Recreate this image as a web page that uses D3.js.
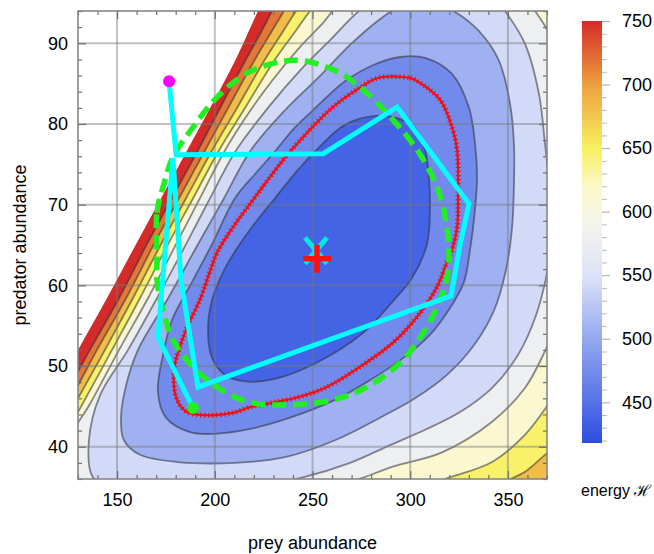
<!DOCTYPE html>
<html>
<head>
<meta charset="utf-8">
<script src="https://cdn.jsdelivr.net/npm/d3@7"></script>
<style>
  body { margin: 0; background: #fff; }
  text { font-family: "Liberation Sans", Arial, sans-serif; }
</style>
</head>
<body>
<div id="chart"></div>
<script>
// contour levels of the energy H
const levels = [455, 490, 525, 560, 595, 630, 665, 700, 735];

// contour lines, [prey, predator] (parts run outside the frame)
const contour455 = [[230.8,70.8],[241.1,73.9],[251.3,76.6],[266.6,79.9],[282.0,81.0],[293.8,80.7],[302.5,79.5],[307.6,76.8],[309.6,73.3],[310.1,69.2],[308.6,65.1],[300.9,60.9],[290.7,57.9],[275.3,54.0],[252.8,50.5],[230.8,48.4],[215.5,48.1],[205.2,48.9],[198.6,51.0],[196.5,54.5],[198.6,58.2],[205.2,62.1],[213.9,65.5],[222.1,68.2]];
const contour490 = [[210.3,70.8],[220.6,73.8],[230.8,76.6],[240.0,79.3],[249.8,81.6],[266.6,85.3],[282.0,87.4],[294.8,88.3],[307.6,88.2],[321.4,86.2],[330.1,82.0],[333.2,77.5],[334.2,73.3],[332.7,68.3],[330.6,64.4],[327.5,60.4],[320.4,57.2],[309.1,53.6],[294.8,50.7],[278.4,48.1],[261.5,45.8],[238.5,43.6],[218.0,42.2],[200.1,41.6],[187.3,41.8],[175.0,43.6],[170.9,46.8],[173.5,51.4],[178.1,55.7],[188.3,60.4],[198.6,65.1]];
const contour525 = [[218.0,76.6],[235.9,81.7],[252.8,85.7],[269.2,89.8],[283.5,92.8],[295.8,94.7],[308.6,95.2],[321.4,94.1],[335.2,91.5],[345.5,87.8],[351.1,82.5],[353.1,77.5],[353.1,72.6],[352.1,67.1],[349.0,61.9],[342.9,56.9],[332.7,52.6],[318.8,48.9],[302.5,46.0],[284.6,43.6],[261.5,40.8],[235.9,38.7],[210.3,38.0],[181.2,38.1],[161.7,39.0],[153.5,40.8],[152.0,43.6],[154.6,47.6],[160.7,52.0],[176.1,58.4],[191.4,65.1],[204.7,70.8]];
const contour560 = [[210.3,76.5],[227.2,82.0],[244.6,86.9],[259.0,90.4],[274.3,94.1],[292.2,96.9],[315.3,98.1],[338.3,96.9],[348.5,94.0],[358.8,89.9],[365.9,83.7],[369.0,77.5],[371.6,71.8],[373.1,66.9],[370.5,62.1],[364.4,56.3],[355.2,51.4],[341.9,47.3],[325.5,44.3],[307.6,42.1],[289.7,40.2],[269.2,38.0],[243.6,36.1],[212.9,34.8],[177.1,34.1],[146.4,34.6],[137.2,36.4],[135.6,40.8],[141.3,46.4],[155.6,52.0],[170.4,58.4],[185.3,65.1],[197.6,70.8]];
const contour595 = [[204.7,76.5],[215.5,80.7],[225.7,84.2],[234.4,86.9],[244.6,89.8],[254.9,92.4],[265.1,95.4],[284.6,99.1],[325.5,100.9],[356.2,96.6],[363.9,94.0],[370.5,91.5],[376.7,87.9],[381.8,80.5],[383.8,70.6],[381.8,60.7],[376.7,55.7],[370.5,52.6],[358.8,47.3],[341.9,43.1],[316.3,39.3],[290.7,37.5],[275.3,36.1],[243.6,33.4],[182.2,31.5],[136.1,32.8],[120.8,37.1],[124.9,40.8],[136.1,45.3],[151.0,52.0],[165.8,58.4],[180.2,65.1],[192.4,70.8]];
const contour630 = [[201.6,76.5],[216.0,82.2],[230.3,87.8],[239.5,90.9],[248.7,94.0],[259.0,97.2],[320.4,102.8],[386.9,100.3],[402.3,83.0],[397.1,68.1],[386.9,54.5],[376.7,47.6],[370.5,45.2],[358.8,41.5],[341.9,38.1],[317.8,36.0],[294.8,34.0],[243.6,29.7],[166.8,29.1],[115.7,33.4],[118.2,39.3],[130.0,44.3],[147.4,52.0],[161.7,58.4],[176.1,65.1],[188.9,70.8]];
const contour665 = [[198.1,76.5],[211.9,82.2],[225.2,87.8],[233.4,90.9],[241.6,94.0],[251.3,97.2],[320.4,104.0],[397.1,103.5],[422.7,83.0],[417.6,58.2],[397.1,45.8],[379.2,40.8],[370.5,39.3],[358.8,36.9],[350.6,35.9],[335.7,33.4],[243.6,27.8],[141.3,27.8],[110.6,34.6],[118.2,40.8],[130.0,46.0],[143.8,52.0],[158.1,58.4],[172.5,65.1],[185.3,70.8]];
const contour700 = [[194.5,76.5],[207.3,82.2],[220.1,87.8],[227.7,90.9],[235.4,94.0],[243.6,97.2],[320.4,105.3],[448.3,104.1],[448.3,21.0],[105.4,21.0],[105.4,37.1],[118.2,42.4],[130.0,47.6],[139.7,52.0],[154.6,58.4],[168.9,65.1],[181.7,70.8]];
const contour735 = [[190.9,76.5],[203.2,82.2],[215.5,87.8],[222.6,90.9],[229.3,94.0],[235.9,97.2],[320.4,106.5],[458.6,105.3],[458.6,18.5],[100.3,18.5],[100.3,35.9],[118.2,44.1],[130.0,49.3],[136.1,52.0],[151.0,58.4],[165.3,65.1],[178.1,70.8]];
// edge of the region where H is defined (white beyond it)
const domainEdge = [[228.3,97.2],[222.1,94.0],[210.3,87.8],[198.1,82.2],[185.3,76.5],[172.5,70.8],[159.7,65.1],[144.8,58.4],[130.0,52.0],[118.2,46.8],[95.2,37.1],[95.2,16.0],[468.8,16.0],[468.8,107.8],[320.4,107.8]];

// stochastic trajectory (red), deterministic orbit (green dashed), data path (cyan)
const redLoop = [[283.5,85.7],[299.9,85.7],[305.0,85.1],[315.3,83.0],[321.4,79.6],[324.0,76.8],[324.5,70.6],[324.0,67.2],[321.4,64.4],[318.8,62.9],[313.7,59.8],[303.5,56.1],[291.2,52.9],[274.3,49.9],[257.4,47.4],[243.6,46.2],[228.3,45.4],[218.0,44.9],[209.3,44.2],[196.0,43.9],[185.8,44.3],[180.7,45.8],[179.1,49.5],[182.2,52.4],[185.8,54.8],[192.4,58.2],[196.5,61.0],[201.1,64.0],[209.3,67.2],[219.6,70.6],[234.9,75.5],[247.2,78.9],[260.5,82.1],[274.3,84.5]];
const greenOrbit = [[170.4,63.1],[170.4,69.0],[174.0,72.6],[178.6,75.9],[188.9,79.6],[201.1,83.3],[216.5,86.3],[233.4,87.7],[246.2,87.8],[264.1,86.3],[277.9,83.8],[291.2,80.5],[303.5,76.8],[313.7,72.2],[318.8,67.2],[319.4,61.9],[315.3,58.2],[306.6,54.1],[294.8,50.4],[277.9,47.4],[260.5,45.8],[238.5,45.2],[218.0,45.5],[201.1,47.4],[188.9,49.9],[178.6,53.2],[173.5,56.9],[170.4,60.7]];
const cyanPath = [[176.6,85.3],[180.2,76.2],[255.4,76.3],[293.3,82.1],[330.1,70.1],[325.5,65.0],[320.9,58.7],[191.4,47.4],[182.7,60.7],[178.6,75.8],[170.9,53.6],[188.9,44.8]];
const startPoint = [176.6, 85.3];
const endPoint = [188.9, 44.8];
const fixedPointData = [251.8, 64.3];
const fixedPointModel = [252.3, 63.3];

// axis ticks
const xTicks = [150, 200, 250, 300, 350];
const yTicks = [40, 50, 60, 70, 80, 90];
const cbTicks = [450, 500, 550, 600, 650, 700, 750];
// colour map of the colour bar
const cbStops = [418, 450, 500, 550, 590, 620, 650, 700, 750];
const cbColors = ["#2e4de0", "#5572e8", "#94a8f0", "#dde3f8", "#f4f4ec", "#fcf8c8", "#f8f060", "#eca03e", "#d42a2a"];

const contours = [contour455, contour490, contour525, contour560, contour595, contour630, contour665, contour700, contour735];

const W = 654, H = 554;
const plot = { left: 78, right: 547, top: 11, bottom: 479 };

const x = d3.scaleLinear().domain([130, 370]).range([plot.left, plot.right]);
const y = d3.scaleLinear().domain([36, 94]).range([plot.bottom, plot.top]);
const color = d3.scaleLinear().domain(cbStops).range(cbColors);

const svg = d3.select("#chart").append("svg")
    .attr("width", W)
    .attr("height", H);

svg.append("defs").append("clipPath")
    .attr("id", "clip")
    .append("rect")
    .attr("x", plot.left).attr("y", plot.top)
    .attr("width", plot.right - plot.left)
    .attr("height", plot.bottom - plot.top);

const area = svg.append("g").attr("clip-path", "url(#clip)");

const closed = d3.line()
    .x(d => x(d[0])).y(d => y(d[1]))
    .curve(d3.curveCatmullRomClosed.alpha(0.5));

// filled bands: highest first, each level covers the region below it
area.append("path")
    .attr("d", closed(domainEdge))
    .attr("fill", color(750));

for (let k = levels.length - 1; k >= 0; k--) {
    const mid = k === 0 ? levels[0] - 18 : (levels[k - 1] + levels[k]) / 2;
    area.append("path")
        .attr("d", closed(contours[k]))
        .attr("fill", color(mid));
}

// contour lines
contours.forEach(c => {
    area.append("path")
        .attr("d", closed(c))
        .attr("fill", "none")
        .attr("stroke", "rgba(45,45,55,0.55)")
        .attr("stroke-width", 1.8);
});

// grid
const grid = area.append("g")
    .attr("stroke", "rgba(120,120,120,0.45)")
    .attr("stroke-width", 2);
grid.selectAll(".gx").data(xTicks).enter().append("line")
    .attr("x1", d => x(d)).attr("x2", d => x(d))
    .attr("y1", plot.top).attr("y2", plot.bottom);
grid.selectAll(".gy").data(yTicks).enter().append("line")
    .attr("y1", d => y(d)).attr("y2", d => y(d))
    .attr("x1", plot.left).attr("x2", plot.right);

// red stochastic loop
area.append("path")
    .attr("d", closed(redLoop))
    .attr("fill", "none")
    .attr("stroke", "#ee1111")
    .attr("stroke-width", 2.2);
area.append("path")
    .attr("d", closed(redLoop))
    .attr("fill", "none")
    .attr("stroke", "#ee1111")
    .attr("stroke-width", 5)
    .attr("stroke-dasharray", "1.2,2.8");

// green dashed orbit
area.append("path")
    .attr("d", closed(greenOrbit))
    .attr("fill", "none")
    .attr("stroke", "#22ee22")
    .attr("stroke-width", 5.5)
    .attr("stroke-dasharray", "14,7");

// cyan path
area.append("path")
    .attr("d", d3.line().x(d => x(d[0])).y(d => y(d[1]))(cyanPath))
    .attr("fill", "none")
    .attr("stroke", "#00ffff")
    .attr("stroke-width", 5)
    .attr("stroke-linejoin", "miter");

area.append("circle")
    .attr("cx", x(startPoint[0])).attr("cy", y(startPoint[1]))
    .attr("r", 6).attr("fill", "#ff00ff");
area.append("circle")
    .attr("cx", x(endPoint[0])).attr("cy", y(endPoint[1]))
    .attr("r", 6).attr("fill", "#22ee22");

// fixed point markers
const fx = x(fixedPointData[0]), fy = y(fixedPointData[1]);
area.append("path")
    .attr("d", `M${fx - 11},${fy - 13}L${fx + 11},${fy + 13}M${fx + 11},${fy - 13}L${fx - 11},${fy + 13}`)
    .attr("stroke", "#00e8e8").attr("stroke-width", 5);
const mx = x(fixedPointModel[0]), my = y(fixedPointModel[1]);
area.append("path")
    .attr("d", `M${mx - 14},${my}L${mx + 14},${my}M${mx},${my - 14}L${mx},${my + 14}`)
    .attr("stroke", "#ff1010").attr("stroke-width", 5.5);

// axes with inward ticks on all four sides
const minorX = d3.range(130, 371, 10).filter(v => !xTicks.includes(v));
const minorY = d3.range(36, 95, 2).filter(v => !yTicks.includes(v));

function tickAxis(axis, transform, values, size, labels) {
    const g = svg.append("g")
        .attr("transform", transform)
        .call(axis.tickValues(values).tickSizeInner(-size).tickSizeOuter(0)
            .tickPadding(labels ? 10 : 0)
            .tickFormat(labels ? d3.format("d") : ""));
    g.select(".domain").remove();
    g.selectAll(".tick line").attr("stroke", "#6e6e6e").attr("stroke-width", 1.2);
    g.selectAll("text").style("font-size", "18px").attr("fill", "#000");
    return g;
}

tickAxis(d3.axisBottom(x), `translate(0,${plot.bottom})`, xTicks, 8, true)
    .selectAll("text").attr("dy", "0.71em").attr("y", 14);
tickAxis(d3.axisBottom(x), `translate(0,${plot.bottom})`, minorX, 4, false);
tickAxis(d3.axisTop(x), `translate(0,${plot.top})`, xTicks, 8, false);
tickAxis(d3.axisTop(x), `translate(0,${plot.top})`, minorX, 4, false);
tickAxis(d3.axisLeft(y), `translate(${plot.left},0)`, yTicks, 8, true);
tickAxis(d3.axisLeft(y), `translate(${plot.left},0)`, minorY, 4, false);
tickAxis(d3.axisRight(y), `translate(${plot.right},0)`, yTicks, 8, false);
tickAxis(d3.axisRight(y), `translate(${plot.right},0)`, minorY, 4, false);

svg.append("rect")
    .attr("x", plot.left).attr("y", plot.top)
    .attr("width", plot.right - plot.left)
    .attr("height", plot.bottom - plot.top)
    .attr("fill", "none")
    .attr("stroke", "#808080")
    .attr("stroke-width", 1.5);

// axis titles
svg.append("text")
    .attr("x", (plot.left + plot.right) / 2)
    .attr("y", 549)
    .attr("text-anchor", "middle")
    .style("font-size", "18px")
    .text("prey abundance");

svg.append("text")
    .attr("transform", `translate(26,${(plot.top + plot.bottom) / 2}) rotate(-90)`)
    .attr("text-anchor", "middle")
    .style("font-size", "18px")
    .text("predator abundance");

// colour bar
const cb = { left: 582, width: 20, top: 21, bottom: 443 };
const cbScale = d3.scaleLinear().domain([418, 750]).range([cb.bottom, cb.top]);

const grad = svg.select("defs").append("linearGradient")
    .attr("id", "cbgrad")
    .attr("x1", 0).attr("x2", 0).attr("y1", 1).attr("y2", 0);
grad.selectAll("stop").data(cbStops).enter().append("stop")
    .attr("offset", d => (d - 418) / (750 - 418))
    .attr("stop-color", d => color(d));

svg.append("rect")
    .attr("x", cb.left).attr("y", cb.top)
    .attr("width", cb.width).attr("height", cb.bottom - cb.top)
    .attr("fill", "url(#cbgrad)");

const cbAxis = svg.append("g")
    .attr("transform", `translate(${cb.left + cb.width},0)`)
    .call(d3.axisRight(cbScale).tickValues(cbTicks).tickSize(8).tickPadding(12));
cbAxis.select(".domain").remove();
cbAxis.selectAll(".tick line").attr("stroke", "#aaa");
cbAxis.selectAll("text").style("font-size", "18px").attr("fill", "#000");

const cbMinor = svg.append("g")
    .attr("transform", `translate(${cb.left + cb.width},0)`)
    .call(d3.axisRight(cbScale)
        .tickValues(d3.range(420, 751, 10).filter(v => !cbTicks.includes(v)))
        .tickSize(5).tickFormat(""));
cbMinor.select(".domain").remove();
cbMinor.selectAll(".tick line").attr("stroke", "#bbb");

svg.append("text")
    .attr("x", 581)
    .attr("y", 496)
    .style("font-size", "16px")
    .text("energy ℋ");
</script>
</body>
</html>
